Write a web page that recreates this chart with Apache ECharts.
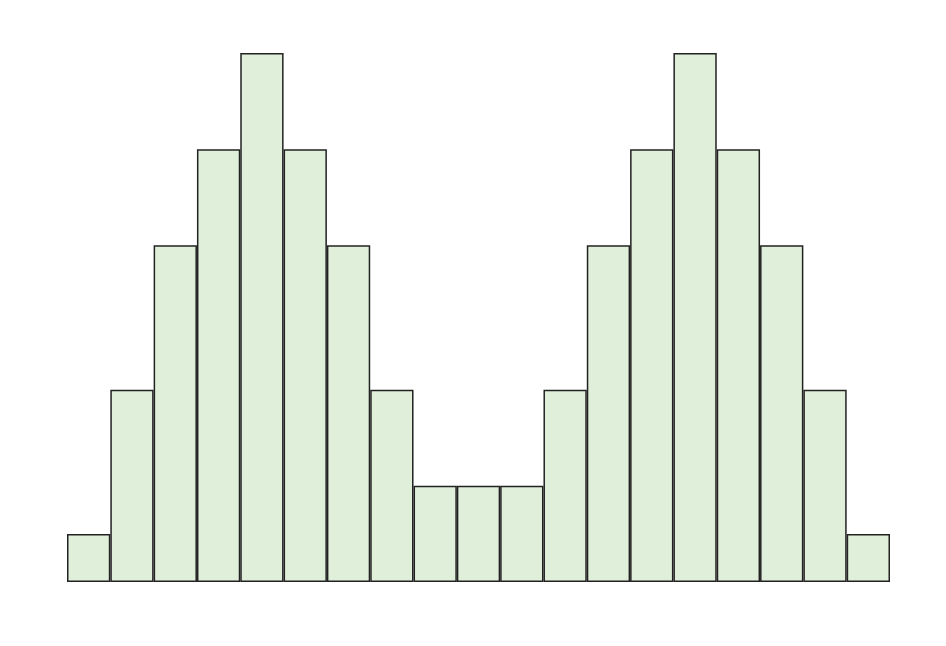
<!DOCTYPE html>
<html><head><meta charset="utf-8">
<script src="https://cdn.jsdelivr.net/npm/echarts@6/dist/echarts.min.js"></script>
<style>html,body{margin:0;padding:0;background:#fff}#c{width:946px;height:646px}</style>
</head><body><div id="c"></div>
<script>
const categories = ['1','2','3','4','5','6','7','8','9','10','11','12','13','14','15','16','17','18','19'];
const counts = [1,4,7,9,11,9,7,4,2,2,2,4,7,9,11,9,7,4,1];
const chart = echarts.init(document.getElementById('c'), null, {renderer:'canvas'});
chart.setOption({
  animation:false,
  backgroundColor:'#ffffff',
  grid:{left:67,right:56,top:53,bottom:64},
  xAxis:{type:'category',data:categories,show:false},
  yAxis:{type:'value',min:0,max:11,show:false},
  series:[{type:'bar',data:counts,barCategoryGap:0,barGap:0,
    itemStyle:{color:'#e0efd9',borderColor:'#222222',borderWidth:1.5}}]
});
</script></body></html>
